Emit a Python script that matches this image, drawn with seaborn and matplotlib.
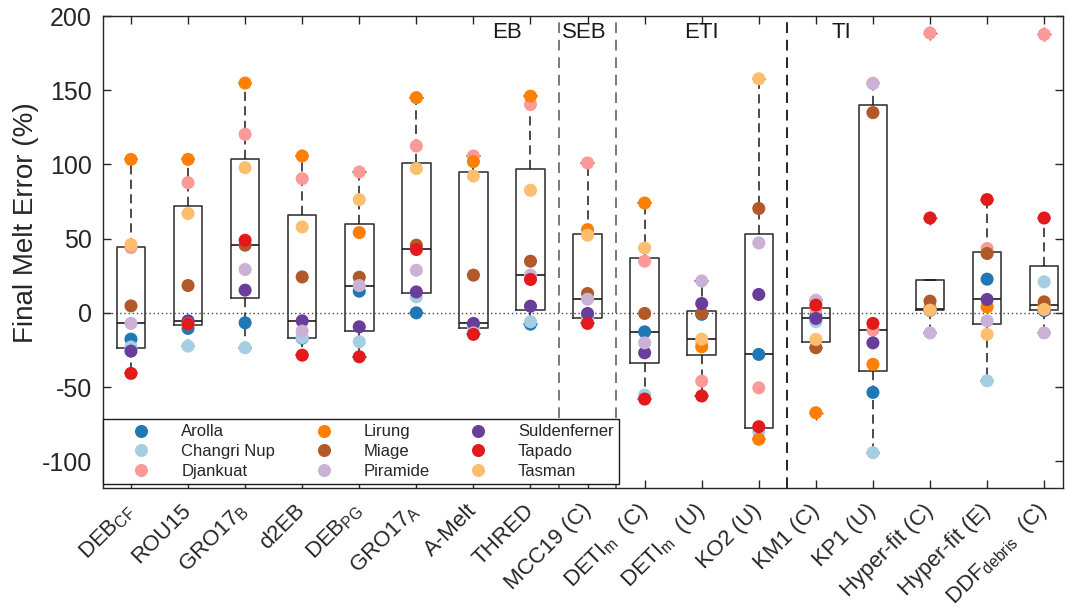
import numpy as np
import pandas as pd
import matplotlib
matplotlib.use("Agg")
import matplotlib.pyplot as plt
import matplotlib.transforms as mtransforms
from matplotlib.lines import Line2D
import seaborn as sns

# ---------------- data ----------------
models = ["DEB_CF", "ROU15", "GRO17_B", "d2EB", "DEB_PG", "GRO17_A", "A-Melt", "THRED",
          "MCC19 (C)", "DETI_m (C)", "DETI_m (U)", "KO2 (U)", "KM1 (C)", "KP1 (U)",
          "Hyper-fit (C)", "Hyper-fit (E)", "DDF_debris (C)"]
tick_labels = ["DEB$_\\mathregular{CF}$", "ROU15", "GRO17$_\\mathregular{B}$", "d2EB",
               "DEB$_\\mathregular{PG}$", "GRO17$_\\mathregular{A}$", "A-Melt", "THRED",
               "MCC19 (C)", "DETI$_\\mathregular{m}$  (C)", "DETI$_\\mathregular{m}$  (U)",
               "KO2 (U)", "KM1 (C)", "KP1 (U)", "Hyper-fit (C)", "Hyper-fit (E)",
               "DDF$_\\mathregular{debris}$  (C)"]

glaciers = ["Arolla", "Changri Nup", "Djankuat", "Lirung", "Miage",
            "Piramide", "Suldenferner", "Tapado", "Tasman"]
glacier_colors = ["#1f78b4", "#a6cee3", "#fb9a99", "#ff7f00", "#b15928",
                  "#cab2d6", "#6a3d9a", "#e31a1c", "#fdbf6f"]

arolla       = [-17.7, -10.5, -6.7, -17.0, 14.6, 0.0, -8.5, -7.6, -3.5, -12.8, -1.0, -28.0, -2.0, -53.6, 2.5, 22.7, 1.5]
changri_nup  = [-23.0, -22.4, -23.5, -16.6, -19.5, 10.8, -9.5, -6.0, -4.0, -55.4, -20.0, -80.0, -6.0, -94.2, 2.0, -45.8, 20.9]
djankuat     = [44.0, 87.7, 120.3, 90.4, 94.9, 112.4, 105.7, 140.4, 101.0, 34.8, -46.0, -50.5, 2.5, -11.6, 188.5, 43.3, 187.6]
lirung       = [103.4, 103.4, 154.8, 105.7, 54.1, 145.0, 101.9, 146.0, 56.1, 74.0, -22.9, -85.2, -67.3, -34.7, 3.2, 4.0, 5.5]
miage        = [4.7, 18.4, 45.6, 24.2, 24.0, 45.6, 25.4, 34.8, 13.0, -0.4, -0.4, 70.3, -23.5, 134.9, 7.9, 40.0, 7.4]
piramide     = [-7.1, -7.5, 29.2, -12.3, 18.4, 28.7, -13.5, 25.4, 9.2, -20.2, 21.5, 47.1, 8.5, 154.4, -13.5, -5.4, -13.5]
suldenferner = [-25.8, -5.4, 15.3, -5.4, -9.4, 14.1, -7.1, 4.5, -0.4, -26.9, 6.3, 12.4, -3.8, -20.2, 1.6, 9.0, 2.0]
tapado       = [-40.8, -7.6, 48.9, -28.5, -29.6, 42.7, -14.5, 22.5, -7.1, -58.1, -56.0, -76.7, 5.2, -7.1, 63.9, 76.3, 63.9]
tasman       = [46.0, 66.9, 97.8, 57.9, 76.3, 97.2, 92.2, 82.6, 52.3, 43.7, -17.7, 157.7, -17.9, 154.8, 1.8, -14.5, 2.3]

series = {"Arolla": arolla, "Changri Nup": changri_nup, "Djankuat": djankuat,
          "Lirung": lirung, "Miage": miage, "Piramide": piramide,
          "Suldenferner": suldenferner, "Tapado": tapado, "Tasman": tasman}

group_names = ["EB", "SEB", "ETI", "TI"]
group_x = [6.58, 7.94, 9.99, 12.44]
separators = [7.5, 8.5, 11.5]

# drawing (stacking) order of the points
draw_order = ["Arolla", "Changri Nup", "Djankuat", "Lirung", "Miage",
              "Suldenferner", "Tasman", "Piramide", "Tapado"]

rows = []
for g in draw_order:
    for m, v in zip(models, series[g]):
        rows.append((m, g, v))
df = pd.DataFrame(rows, columns=["model", "glacier", "value"])
palette = dict(zip(glaciers, glacier_colors))

# ---------------- style ----------------
sns.set_style("ticks")
plt.rcParams["font.family"] = ["Liberation Sans", "DejaVu Sans"]
plt.rcParams["mathtext.default"] = "regular"
plt.rcParams["axes.unicode_minus"] = False

fig = plt.figure(figsize=(10.67, 6.16), dpi=100)
ax = fig.add_axes([103 / 1067, 1 - 488 / 616, 960 / 1067, 472 / 616])

# ---------------- boxes (MATLAB-style quartiles) ----------------
stats = []
for m in models:
    v = df.loc[df["model"] == m, "value"].dropna().to_numpy()
    q1, med, q3 = np.percentile(v, [25, 50, 75], method="hazen")
    iqr = q3 - q1
    lo_f, hi_f = q1 - 1.5 * iqr, q3 + 1.5 * iqr
    inside = v[(v >= lo_f) & (v <= hi_f)]
    stats.append(dict(med=med, q1=q1, q3=q3,
                      whislo=min(inside.min(), q1), whishi=max(inside.max(), q3),
                      fliers=v[(v < lo_f) | (v > hi_f)]))

ax.bxp(stats, positions=range(len(models)), widths=0.5, capwidths=0.22,
       boxprops=dict(color="#3a3a3a", lw=1.2),
       whiskerprops=dict(color="#1a1a1a", lw=1.1, linestyle=(0, (6, 3.5))),
       capprops=dict(color="#1a1a1a", lw=1.1),
       medianprops=dict(color="#1a1a1a", lw=1.2),
       flierprops=dict(marker="+", markeredgecolor="#ff0000", markersize=10, mew=1),
       manage_ticks=False, zorder=2)

# ---------------- points ----------------
sns.stripplot(data=df, x="model", y="value", hue="glacier", order=models,
              hue_order=draw_order, palette=palette, jitter=False, dodge=False,
              size=9.4, linewidth=0, legend=False, ax=ax, zorder=3)

# ---------------- decorations ----------------
ax.axhline(0, color="#444444", lw=1, ls=(0, (1, 2)), zorder=1)
for i, s in enumerate(separators):
    ax.axvline(s, color="#7a7a7a" if i < 2 else "#222222", lw=1.4,
               ls=(0, (5.5, 3.5)), zorder=1)
for name, gx in zip(group_names, group_x):
    ax.text(gx, 189, name, ha="center", va="center", fontsize=16, color="#1a1a1a")

ax.set_xlim(-0.49, 16.33)
ax.set_ylim(-118, 200)
ax.set_yticks([-100, -50, 0, 50, 100, 150, 200])
ax.set_xticks(range(len(models)))
ax.set_xticklabels(tick_labels, rotation=45, ha="right", va="center",
                   rotation_mode="anchor", fontsize=16, color="#262626")
off = mtransforms.ScaledTranslation(10 / 100, 0, fig.dpi_scale_trans)
for lab in ax.get_xticklabels():
    lab.set_transform(lab.get_transform() + off)
ax.tick_params(axis="both", direction="in", length=6, width=1, color="#262626",
               top=True, right=True)
ax.tick_params(axis="y", labelsize=18, pad=8, labelcolor="#262626")
ax.tick_params(axis="x", pad=14)
ax.set_xlabel("")
ax.set_ylabel("Final Melt Error (%)", fontsize=20, color="#262626")
ax.yaxis.set_label_coords(-0.0667, 0.5625)
for sp in ax.spines.values():
    sp.set_color("#262626")
    sp.set_linewidth(1)
    sp.set_visible(True)

# ---------------- legend ----------------
handles = [Line2D([], [], marker="o", ls="none", markersize=9.4, markeredgewidth=0,
                  color=c, label=g) for g, c in zip(glaciers, glacier_colors)]
leg = ax.legend(handles=handles, ncol=3, loc="lower left", bbox_to_anchor=(0.0, 0.009),
                borderaxespad=0, fontsize=12, frameon=True, fancybox=False,
                edgecolor="#1a1a1a", framealpha=1, handlelength=4, handletextpad=0.4,
                borderpad=0.3, columnspacing=0.9, labelspacing=0.28)
leg.get_frame().set_linewidth(1)
leg.set_zorder(5)

fig.savefig("out.png", dpi=100)
